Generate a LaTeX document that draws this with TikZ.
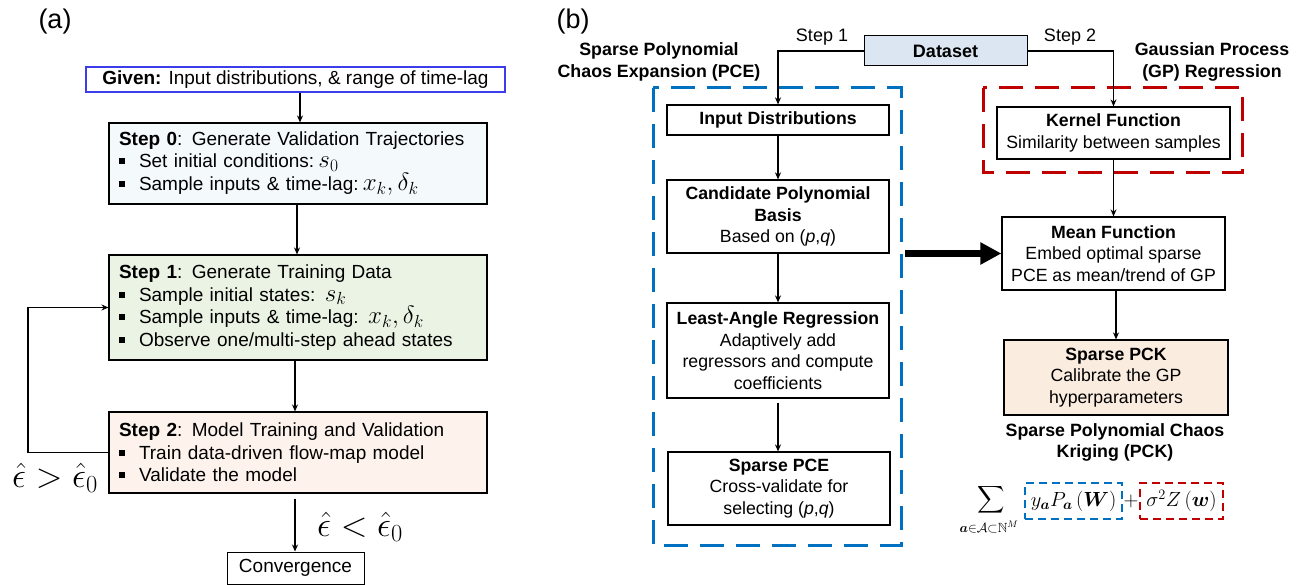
\RequirePackage{fix-cm}
\documentclass[tikz,border=0pt]{standalone}
\usepackage{amsmath,amssymb,bm}
\usepackage{fontspec}
\setmainfont{Liberation Sans}
\usetikzlibrary{arrows.meta,calc}
\definecolor{givenblue}{RGB}{60,60,235}
\definecolor{fillzero}{RGB}{244,249,252}
\definecolor{fillone}{RGB}{235,244,228}
\definecolor{filltwo}{RGB}{253,243,236}
\definecolor{filldata}{RGB}{220,230,242}
\definecolor{fillpck}{RGB}{251,236,224}
\definecolor{dashblue}{RGB}{0,112,192}
\definecolor{dashred}{RGB}{192,0,0}
\newcommand{\bul}{\makebox[20pt][l]{\raisebox{3.5pt}{\rule{6pt}{6pt}}}}
\newcommand{\fsz}[2]{\fontsize{#1}{#2}\selectfont}
\newcommand{\mth}[1]{{\fsz{25}{22.5}$#1$}}
\begin{document}
\begin{tikzpicture}[x=1pt,y=-1pt,
  abox/.style={draw, line width=1.1pt, text width=358pt, align=left, inner xsep=10pt, inner ysep=0pt, font=\fsz{19}{22.5}},
  bbox/.style={draw, line width=1.2pt, align=center, inner sep=0pt, font=\fsz{17.7}{21.5}},
  arr/.style={-{Stealth[length=7pt,width=6pt]}, line width=1.2pt},
  plain/.style={inner sep=0pt, font=\fsz{18}{21.5}},
  title/.style={inner sep=0pt, align=center, font=\fsz{17.8}{21.5}\bfseries},
  bigdash/.style={line width=3pt, dash pattern=on 24pt off 12pt},
  smalldash/.style={line width=2pt, dash pattern=on 8pt off 5pt, inner sep=0pt, minimum height=36pt, font=\fsz{20.5}{22}},
  eps/.style={inner sep=0pt, font=\fsz{35}{38}}
]
\useasboundingbox (0,0) rectangle (1300,585);
\fill[white] (0,0) rectangle (1300,585);

% ---------------- panel (a)
\node[inner sep=0pt, font=\fsz{27}{29}] (la) at (55,22) {(a)};
\node[draw=givenblue, line width=1.2pt, minimum width=419pt, minimum height=25pt, inner sep=0pt, font=\fsz{19}{22}] (given) at (295.5,79.5) {\textbf{Given:} Input distributions, \& range of time-lag};
\node[abox, fill=fillzero, minimum height=81pt] (s0) at (298,163.5) {\textbf{Step 0}: Generate Validation Trajectories\\
\bul Set initial conditions:\mth{\,s_0}\\
\bul Sample inputs \& time-lag:\mth{\,x_k,\delta_k}};
\node[abox, fill=fillone, minimum height=105pt] (s1) at (298,307.5) {\textbf{Step 1}: Generate Training Data\\
\bul Sample initial states: \mth{s_k}\\
\bul Sample inputs \& time-lag: \mth{x_k,\delta_k}\\
\bul Observe one/multi-step ahead states};
\node[abox, fill=filltwo, minimum height=81pt] (s2) at (298,452.5) {\textbf{Step 2}: Model Training and Validation\\
\bul Train data-driven flow-map model\\
\bul Validate the model};
\node[draw, line width=1pt, minimum width=137pt, minimum height=32pt, inner sep=0pt, font=\fsz{19}{22}] (conv) at (295.5,568) {Convergence};

\draw[arr] (given.south -| 300,0) -- (s0.north -| 300,0);
\draw[arr] (s0.south -| 297,0) -- (s1.north -| 297,0);
\draw[arr] (s1.south -| 295,0) -- (s2.north -| 295,0);
\draw[arr] ($(s2.south -| 295,0)+(0,5)$) -- (conv.north -| 295,0);
\coordinate (loop) at (28,452);
\draw[arr] (s2.west) -- (s2.west -| loop) |- (s1.west);
\node[eps] (gt) at (55,478) {$\hat\epsilon > \hat\epsilon_0$};
\node[eps] (lt) at (360,527) {$\hat\epsilon < \hat\epsilon_0$};

% ---------------- panel (b)
\node[inner sep=0pt, font=\fsz{27}{29}] (lb) at (573,22) {(b)};
\node[title] (tpce) at (659,62) {Sparse Polynomial\\Chaos Expansion (PCE)};
\node[title] (tgp) at (1212,62) {Gaussian Process\\(GP) Regression};
\node[bbox, line width=1pt, fill=filldata, minimum width=163pt, minimum height=30pt, font=\fsz{18}{20}\bfseries] (data) at (945.5,51) {Dataset};

\draw[dashblue, bigdash] (653,88) rectangle (901,545);
\draw[dashred, bigdash] (983,88) rectangle (1242,173);

\node[bbox, minimum width=222pt, minimum height=30pt] (inp) at (778,120) {\textbf{Input Distributions}};
\node[bbox, minimum width=222pt, minimum height=73pt] (cand) at (778,216.5) {\textbf{Candidate Polynomial}\\\textbf{Basis}\\Based on (\textit{p},\textit{q})};
\node[bbox, minimum width=222pt, minimum height=95pt] (lar) at (778,350.5) {\textbf{Least-Angle Regression}\\Adaptively add\\regressors and compute\\coefficients};
\node[bbox, minimum width=222pt, minimum height=73pt] (spce) at (779,488.5) {\textbf{Sparse PCE}\\Cross-validate for\\selecting (\textit{p},\textit{q})};

\node[bbox, minimum width=233pt, minimum height=52pt] (kern) at (1113.5,133) {\textbf{Kernel Function}\\Similarity between samples};
\node[bbox, minimum width=223pt, minimum height=73pt] (mean) at (1113.5,253.5) {\textbf{Mean Function}\\Embed optimal sparse\\PCE as mean/trend of GP};
\node[bbox, fill=fillpck, minimum width=224pt, minimum height=75pt] (pck) at (1116,377.5) {\textbf{Sparse PCK}\\Calibrate the GP\\hyperparameters};
\node[title] (tpck) at (1115,442.5) {Sparse Polynomial Chaos\\Kriging (PCK)};

\draw[arr] (data.west) -| (inp.north);
\draw[arr] (data.east) -| (kern.north);
\node[plain] (st1) at (822,37) {Step 1};
\node[plain] (st2) at (1070,37) {Step 2};
\draw[arr] (inp) -- (cand);
\draw[arr] (cand) -- (lar);
\draw[arr] ($(lar.south)+(0,4)$) -- (spce.north -| lar.south);
\draw[arr] (kern) -- (mean.north -| kern.south);
\draw[arr] (mean.south -| 1116,0) -- (pck.north);
\coordinate (bigstart) at (905,253.5);
\draw[line width=7pt, -{Triangle[length=21pt,width=21pt]}] (bigstart) -- (mean.west);

% formula
\node[inner sep=0pt, font=\fsz{19}{22}] (sum) at (991,500) {$\displaystyle\sum$};
\node[inner sep=0pt, font=\fsz{19}{20}] (sumsub) at (989,527) {$\scriptstyle\bm a\in\mathcal{A}\subset\mathbb{N}^M$};
\node[smalldash, draw=dashblue, minimum width=97pt] (fa) at (1073.5,501) {$y_{\bm a}P_{\bm a}\left(\bm W\right)$};
\node[inner sep=0pt, font=\fsz{20.5}{22}] (plus) at (1131,501) {$+$};
\node[smalldash, draw=dashred, minimum width=83pt] (fb) at (1181.5,501) {$\sigma^2 Z\left(\bm w\right)$};
\end{tikzpicture}
\end{document}
